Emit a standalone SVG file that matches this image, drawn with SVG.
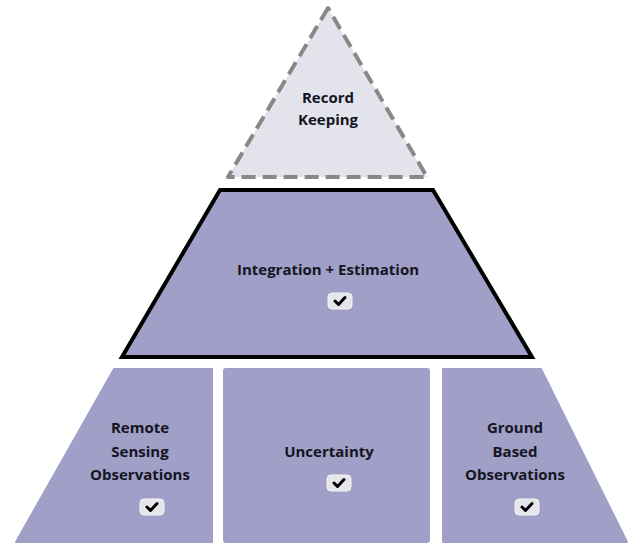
<svg xmlns="http://www.w3.org/2000/svg" width="629" height="544" viewBox="0 0 629 544">
<style>
.lbl{font-family:"Open Sans","Liberation Sans",sans-serif;font-weight:bold;font-size:15px;fill:#15151f;text-anchor:middle}
.box{fill:#a09fc7;stroke:#a09fc7;stroke-width:2;stroke-linejoin:round}
.chkbg{fill:#e6e6ea;stroke:#f4f4f6;stroke-width:1}
.chk{fill:none;stroke:#000;stroke-width:3;stroke-linecap:round;stroke-linejoin:round}
</style>
<defs>
<g id="check">
<rect class="chkbg" x="-12" y="-8" width="24" height="16" rx="4"/>
<path class="chk" d="M-5,0 L-1.5,3.5 L5,-3.5"/>
</g>
</defs>
<g id="record-keeping">
<polygon points="328,8 228,177 427,177" fill="#e3e3ec" stroke="#888888" stroke-width="4" stroke-dasharray="14,7" stroke-linejoin="round"/>
<text class="lbl" x="328" y="103">Record</text>
<text class="lbl" x="328" y="125">Keeping</text>
</g>
<g id="integration-estimation">
<polygon points="220,190 433,190 532,357 122,357" fill="#a09fc7" stroke="#000" stroke-width="4" stroke-linejoin="miter"/>
<text class="lbl" x="328" y="275">Integration + Estimation</text>
<use href="#check" x="340" y="301"/>
</g>
<g id="remote-sensing">
<polygon class="box" points="114,369 212,369 212,542 16,542"/>
<text class="lbl" x="140" y="433">Remote</text>
<text class="lbl" x="140" y="457">Sensing</text>
<text class="lbl" x="140" y="480">Observations</text>
<use href="#check" x="152" y="507"/>
</g>
<g id="uncertainty">
<rect class="box" x="224" y="369" width="205" height="173" rx="2"/>
<text class="lbl" x="329" y="457">Uncertainty</text>
<use href="#check" x="339" y="483"/>
</g>
<g id="ground-based">
<polygon class="box" points="443,369 541,369 627,542 443,542"/>
<text class="lbl" x="515" y="433">Ground</text>
<text class="lbl" x="515" y="457">Based</text>
<text class="lbl" x="515" y="480">Observations</text>
<use href="#check" x="527" y="507"/>
</g>
<g id="connectors"/>
</svg>
